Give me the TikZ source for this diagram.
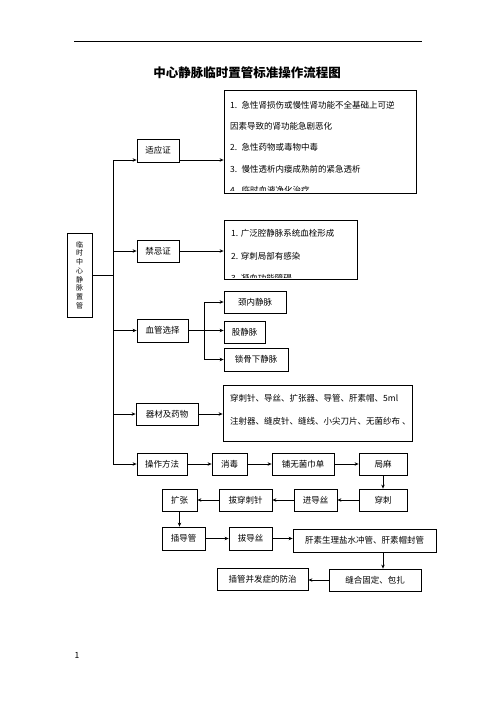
\documentclass[tikz,border=0pt]{standalone}
\usepackage{fontspec}
\setmainfont{Noto Sans CJK SC}
\usetikzlibrary{arrows.meta, positioning, calc}

\begin{document}
\begin{tikzpicture}[x=1pt, y=-1pt,
  every node/.style={font=\fontsize{8.5}{10}\selectfont},
  box/.style={draw, line width=0.8pt, inner sep=0pt, align=center},
  listtxt/.style={inner sep=0pt, align=left, anchor=north west},
  arr/.style={-{Stealth[length=4pt,width=3.5pt]}, line width=0.7pt}
]
  \useasboundingbox (0,0) rectangle (496,702);
  \coordinate (hl) at (74,41);
  \coordinate (hr) at (422,41);
  \draw[line width=0.8pt] (hl) -- (hr);
  \node[font=\bfseries\fontsize{12.5}{14}\selectfont] (title) at (247,73) {中心静脉临时置管标准操作流程图};

  % left column
  \node[box, minimum width=25pt, minimum height=84pt, font=\fontsize{7}{8.7}\selectfont] (lsz) at (79.5,275) {临\\时\\中\\心\\静\\脉\\置\\管};
  \node[box, minimum width=42pt, minimum height=23pt] (syz) at (158,150.5) {适应证};
  \node[box, minimum width=42pt, minimum height=22pt] (jjz) at (158,251) {禁忌证};
  \node[box, minimum width=51pt, minimum height=23pt] (xgxz) at (162.5,330.5) {血管选择};
  \node[box, minimum width=62pt, minimum height=22pt] (qcyw) at (167,414) {器材及药物};
  \node[box, minimum width=50pt, minimum height=22pt] (czff) at (162,464) {操作方法};

  % list boxes
  \node[box, minimum width=192pt, minimum height=103pt] (syzl) at (320,141.5) {};
  \begin{scope}
    \clip (syzl.north west) rectangle ([yshift=3pt]syzl.south east);
    \node[listtxt, font=\fontsize{8.5}{21.2}\selectfont] (syzt) at (230,101) {1.\enspace 急性肾损伤或慢性肾功能不全基础上可逆\\因素导致的肾功能急剧恶化\\2.\enspace 急性药物或毒物中毒\\3.\enspace 慢性透析内瘘成熟前的紧急透析\\4.\enspace 临时血液净化治疗};
  \end{scope}
  \node[box, minimum width=133pt, minimum height=59pt] (jjzl) at (290.5,249.5) {};
  \begin{scope}
    \clip (jjzl.north west) rectangle ([yshift=2pt]jjzl.south east);
    \node[listtxt, font=\fontsize{8.5}{22.5}\selectfont] (jjzt) at (231,229.5) {1. 广泛腔静脉系统血栓形成\\2. 穿刺局部有感染\\3. 凝血功能障碍};
  \end{scope}
  \node[box, minimum width=189pt, minimum height=56pt] (qcywl) at (317.5,413) {};
  \node[listtxt, font=\fontsize{8.5}{23}\selectfont] (qcywt) at (230,394.5) {穿刺针、导丝、扩张器、导管、肝素帽、5ml\\注射器、缝皮针、缝线、小尖刀片、无菌纱布 、};

  % vessels
  \node[box, minimum width=62pt, minimum height=22pt] (jnjm) at (255,302) {颈内静脉};
  \node[box, minimum width=41pt, minimum height=22pt] (gjm) at (244.5,332) {股静脉};
  \node[box, minimum width=64pt, minimum height=23pt] (sgxjm) at (256,359.5) {锁骨下静脉};

  % procedure steps
  \node[box, minimum width=35pt, minimum height=22pt] (xd) at (229.5,464) {消毒};
  \node[box, minimum width=62pt, minimum height=22pt] (pwjjd) at (303,464) {铺无菌巾单};
  \node[box, minimum width=48pt, minimum height=22pt] (jm) at (383,464) {局麻};
  \node[box, minimum width=48pt, minimum height=22pt] (cc) at (383,500) {穿刺};
  \node[box, minimum width=43pt, minimum height=22pt] (jds) at (315.5,500) {进导丝};
  \node[box, minimum width=53pt, minimum height=22pt] (bccz) at (245.5,500) {拔穿刺针};
  \node[box, minimum width=35pt, minimum height=22pt] (kz) at (179.5,500) {扩张};
  \node[box, minimum width=43pt, minimum height=23pt] (cdg) at (183.5,538.5) {插导管};
  \node[box, minimum width=43pt, minimum height=23pt] (bds) at (250.5,538.5) {拔导丝};
  \node[box, minimum width=143pt, minimum height=23pt] (gsfg) at (364.5,540.5) {肝素生理盐水冲管、肝素帽封管};
  \node[box, minimum width=92pt, minimum height=22pt] (fhgd) at (375,580) {缝合固定、包扎};
  \node[box, minimum width=91pt, minimum height=22pt] (bfzfz) at (262.5,579) {插管并发症的防治};

  \node (pno) at (77,655) {1};

  % trunk
  \coordinate (t1) at (113,160);
  \draw[line width=0.7pt] (t1) -- (t1 |- czff);
  \draw[line width=0.7pt] (lsz.east) -- (lsz.east -| t1);
  \draw[arr] (t1) -- (t1 -| syz.west);
  \draw[arr] (t1 -| syz.east) -- (t1 -| syzl.west);
  \draw[arr] (t1 |- jjz) -- (jjz.west);
  \draw[arr] (jjz.east) -- (jjz.east -| jjzl.west);
  \draw[arr] (t1 |- xgxz) -- (xgxz.west);
  \draw[arr] (t1 |- qcyw) -- (qcyw.west);
  \draw[arr] (qcyw.east) -- (qcyw.east -| qcywl.west);
  \draw[arr] (t1 |- czff) -- (czff.west);

  % vessel branch
  \coordinate (vb) at (204,330.5);
  \draw[line width=0.7pt] (xgxz.east) -- (vb);
  \draw[line width=0.7pt] (vb |- jnjm) -- (vb |- sgxjm);
  \draw[arr] (vb |- jnjm) -- (jnjm.west);
  \draw[arr] (vb) -- (vb -| gjm.west);
  \draw[arr] (vb |- sgxjm) -- (sgxjm.west);

  % procedure flow
  \draw[arr] (czff) -- (xd);
  \draw[arr] (xd) -- (pwjjd);
  \draw[arr] (pwjjd) -- (jm);
  \draw[arr] (jm) -- (cc);
  \draw[arr] (cc) -- (jds);
  \draw[arr] (jds) -- (bccz);
  \draw[arr] (bccz) -- (kz);
  \draw[arr] (kz.south) -- (kz.south |- cdg.north);
  \draw[arr] (cdg.east) -- (cdg.east -| bds.west);
  \draw[arr] (bds.east) -- (bds.east -| gsfg.west);
  \draw[arr] (gsfg.south -| jm) -- (fhgd.north -| jm);
  \draw[arr] (fhgd.west) -- (fhgd.west -| bfzfz.east);
\end{tikzpicture}
\end{document}
